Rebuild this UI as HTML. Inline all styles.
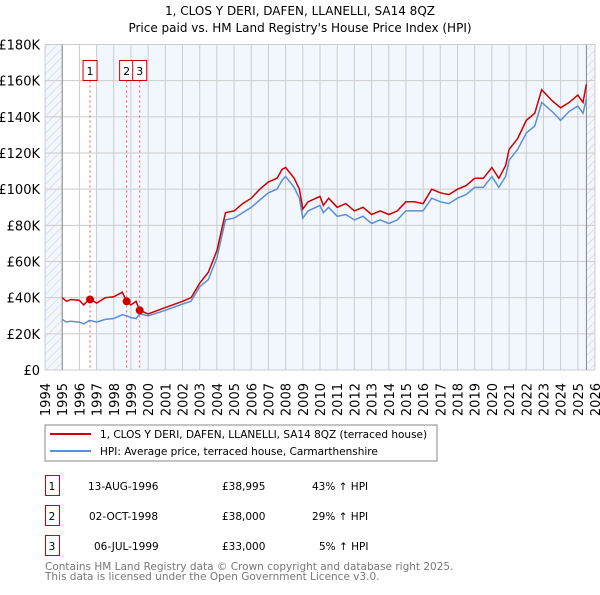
<!DOCTYPE html>
<html><head><meta charset="utf-8"><style>
body{margin:0;background:#fff;font-family:"Liberation Sans","DejaVu Sans",sans-serif;}
svg text{font-family:"DejaVu Sans","Liberation Sans",sans-serif;}
</style></head><body>
<svg id="c" width="600" height="590" xmlns="http://www.w3.org/2000/svg">
<defs><pattern id="h" width="6" height="6" patternUnits="userSpaceOnUse" patternTransform="rotate(45)"><line x1="0" y1="0" x2="0" y2="6" stroke="#ccc" stroke-width="1"/></pattern></defs>
<text x="300" y="15" font-size="12" text-anchor="middle">1, CLOS Y DERI, DAFEN, LLANELLI, SA14 8QZ</text>
<text x="300" y="32" font-size="12" text-anchor="middle">Price paid vs. HM Land Registry's House Price Index (HPI)</text>
<g id="plot"></g>
<rect x="45" y="425" width="392" height="36" fill="#fff" stroke="#888"/>
<line x1="50" y1="434" x2="91" y2="434" stroke="#cc0000" stroke-width="2"/>
<text x="100" y="438" font-size="10.5">1, CLOS Y DERI, DAFEN, LLANELLI, SA14 8QZ (terraced house)</text>
<line x1="50" y1="451" x2="91" y2="451" stroke="#5b8fd6" stroke-width="2"/>
<text x="100" y="455" font-size="10.5">HPI: Average price, terraced house, Carmarthenshire</text>
<g font-size="10.5">
<rect x="45.5" y="475.5" width="14" height="20" fill="#fff" stroke="#cc0000"/><text x="52" y="490" text-anchor="middle">1</text>
<text x="88" y="490">13-AUG-1996</text><text x="222" y="490">£38,995</text><text x="312" y="490">43% ↑ HPI</text>
<rect x="45.5" y="505.5" width="14" height="20" fill="#fff" stroke="#cc0000"/><text x="52" y="520" text-anchor="middle">2</text>
<text x="89" y="520">02-OCT-1998</text><text x="222" y="520">£38,000</text><text x="312" y="520">29% ↑ HPI</text>
<rect x="45.5" y="535.5" width="14" height="20" fill="#fff" stroke="#cc0000"/><text x="52" y="550" text-anchor="middle">3</text>
<text x="94" y="550">06-JUL-1999</text><text x="222" y="550">£33,000</text><text x="319" y="550">5% ↑ HPI</text>
</g>
<text x="45" y="570" font-size="10.5" fill="#777">Contains HM Land Registry data © Crown copyright and database right 2025.</text>
<text x="45" y="580" font-size="10.5" fill="#777">This data is licensed under the Open Government Licence v3.0.</text>
</svg>
<script>
const years=[1995,1995.25,1995.5,1996,1996.25,1996.6,1997,1997.5,1998,1998.5,1998.75,1999,1999.3,1999.5,2000,2001,2002,2002.5,2003,2003.5,2004,2004.5,2005,2005.5,2006,2006.5,2007,2007.5,2007.8,2008,2008.5,2008.8,2009,2009.3,2010,2010.2,2010.5,2011,2011.5,2012,2012.5,2013,2013.5,2014,2014.5,2015,2015.5,2016,2016.5,2017,2017.5,2018,2018.5,2019,2019.5,2020,2020.4,2020.8,2021,2021.5,2022,2022.5,2022.9,2023.5,2024,2024.5,2025,2025.3,2025.5];
const hpiValues=[28,26.5,27,26.5,25.5,27.5,26.5,28,28.5,30.5,30,29,28.5,31,30,33,36.5,38,46,50,62,83,84,87,90,94,98,100,105,107,101,95,84,88,91,87,90,85,86,83,85,81,83,81,83,88,88,88,95,93,92,95,97,101,101,107,101,107,116,122,131,135,148,143,138,143,146,142,150];
const priceValues=[40,38,39,38.5,36,39.5,37,40,40.5,43,38,36,38,33,31,34.5,38,40,48,54,66,87,88,92,95,100,104,106,111,112,106,100,89,93,96,91,95,90,92,88,90,86,88,86,88,93,93,92,100,98,97,100,102,106,106,112,106,113,122,128,138,142,155,149,145,148,152,148,158];
const saleYears=[1996.62,1998.75,1999.51];
const salePrices=[38.995,38,33];
const saleLabels=["1","2","3"];
const yTicks=[0,20,40,60,80,100,120,140,160,180];
const yTickLabels=["£0","£20K","£40K","£60K","£80K","£100K","£120K","£140K","£160K","£180K"];
const xTicks=[];for(let y=1994;y<=2026;y++)xTicks.push(y);

const X0=45,X1=595,Y0=370,Y1=44.5;
const xs=v=>X0+(v-1994)/32*(X1-X0);
const ys=v=>Y0-v/180*(Y0-Y1);
const NS="http://www.w3.org/2000/svg";
const g=document.getElementById('plot');
function mk(t,a){const e=document.createElementNS(NS,t);for(const k in a)e.setAttribute(k,a[k]);g.appendChild(e);return e;}
let e;
e=mk('rect',{x:X0,y:Y1,width:X1-X0,height:Y0-Y1,fill:'#f2f6fd'});


e=mk('rect',{x:xs(1995),y:Y1,width:xs(1997)-xs(1995),height:Y0-Y1,fill:'#fff'});


e=mk('rect',{x:X0,y:Y1,width:xs(1995)-X0,height:Y0-Y1,fill:'url(#h)'});


e=mk('rect',{x:xs(2025.5),y:Y1,width:X1-xs(2025.5),height:Y0-Y1,fill:'url(#h)'});


xTicks.forEach(t=>{
 e=mk('line',{x1:xs(t),x2:xs(t),y1:Y1,y2:Y0,stroke:'#ccc','stroke-width':1});
 
 
 e=mk('text',{x:0,y:0,'font-size':13,'text-anchor':'end',transform:`translate(${xs(t)+5},383) rotate(-90)`});
 e.textContent=t;
 
 
});
yTicks.forEach((t,i)=>{
 e=mk('line',{x1:X0,x2:X1,y1:ys(t),y2:ys(t),stroke:'#ccc','stroke-width':1});
 
 
 e=mk('text',{x:40,y:ys(t)+5,'font-size':13,'text-anchor':'end'});
 e.textContent=yTickLabels[i];
 
 
});
e=mk('line',{x1:xs(1995),x2:xs(1995),y1:Y1,y2:Y0,stroke:'#888'});


e=mk('line',{x1:xs(2025.5),x2:xs(2025.5),y1:Y1,y2:Y0,stroke:'#888'});


saleYears.forEach((s,i)=>{
 e=mk('line',{x1:xs(s),x2:xs(s),y1:Y1+26,y2:Y0,stroke:'#e55','stroke-dasharray':'2,3','stroke-width':1});
 
 
 e=mk('rect',{x:xs(s)-7,y:60.5,width:14,height:20,fill:'#fff',stroke:'#cc0000'});
 
 
 e=mk('text',{x:xs(s),y:75,'font-size':11,'text-anchor':'middle'});
 e.textContent=saleLabels[i];
 
 
});
e=mk('path',{d:years.map((y,i)=>(i?'L':'M')+xs(y).toFixed(1)+','+ys(hpiValues[i]).toFixed(1)).join(''),fill:'none',stroke:'#5b8fd6','stroke-width':1.5});


e=mk('path',{d:years.map((y,i)=>(i?'L':'M')+xs(y).toFixed(1)+','+ys(priceValues[i]).toFixed(1)).join(''),fill:'none',stroke:'#cc0000','stroke-width':1.5});


saleYears.forEach((s,i)=>{
 e=mk('circle',{cx:xs(s),cy:ys(salePrices[i]),r:4,fill:'#cc0000'});
 
 
});
</script>
</body></html>
